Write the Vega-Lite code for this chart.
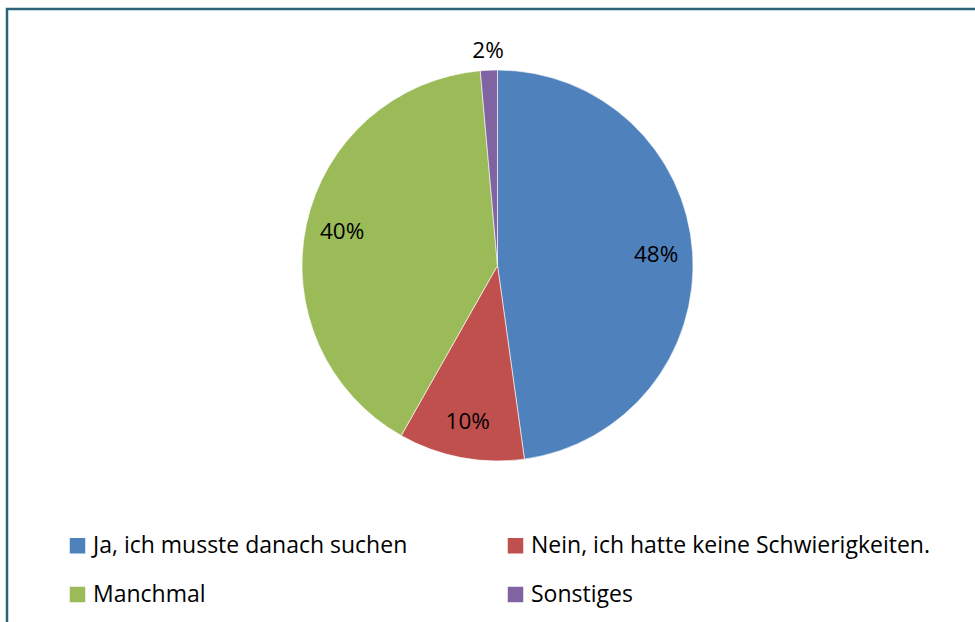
{
  "$schema": "https://vega.github.io/schema/vega-lite/v6.json",
  "autosize": {"type": "none"},
  "padding": {"left": 7, "top": 9, "right": -6, "bottom": -6},
  "width": 974,
  "height": 619,
  "background": "white",
  "view": {"stroke": "#2b6476", "strokeWidth": 2.5, "fill": "white"},
  "config": {
    "view": {"stroke": "#2b6476", "strokeWidth": 2.5},
    "font": "Open Sans",
    "legend": {
      "orient": "none",
      "legendX": 59,
      "legendY": 525,
      "columns": 2,
      "symbolType": "square",
      "symbolSize": 240,
      "symbolStrokeWidth": 0,
      "symbolOpacity": 1,
      "labelFont": "Open Sans",
      "labelFontSize": 23,
      "labelColor": "#000000",
      "labelOffset": 4,
      "labelLimit": 0,
      "rowPadding": 25,
      "columnPadding": 96,
      "title": null
    }
  },
  "data": {
    "values": [
      {"category": "Ja, ich musste danach suchen", "answer_no": 1, "value": 47.8, "label": "48%"},
      {"category": "Nein, ich hatte keine Schwierigkeiten.", "answer_no": 2, "value": 10.4, "label": "10%"},
      {"category": "Manchmal", "answer_no": 3, "value": 40.4, "label": "40%"},
      {"category": "Sonstiges", "answer_no": 4, "value": 1.4, "label": "2%"}
    ]
  },
  "encoding": {
    "theta": {"field": "value", "type": "quantitative", "stack": true},
    "order": {"field": "answer_no", "type": "quantitative", "sort": "ascending"},
    "color": {
      "field": "category",
      "type": "nominal",
      "scale": {
        "domain": ["Ja, ich musste danach suchen", "Manchmal", "Nein, ich hatte keine Schwierigkeiten.", "Sonstiges"],
        "range": ["#4f81bd", "#9bbb59", "#c0504d", "#8064a2"]
      },
      "legend": {"title": null}
    }
  },
  "layer": [
    {
      "mark": {"type": "arc", "radius": 195.5, "x": {"expr": "width/2 + 3.5"}, "y": {"expr": "height/2 - 53"}, "stroke": "white", "strokeWidth": 0.6}
    },
    {
      "mark": {"type": "text", "radius": 159, "x": {"expr": "width/2 + 3.5"}, "y": {"expr": "height/2 - 53"}, "fontSize": 22.5, "font": "Open Sans", "fill": "#000000"},
      "encoding": {
        "text": {"condition": {"test": "datum.category === 'Sonstiges'", "value": ""}, "field": "label"},
        "color": {"value": "#000000"}
      }
    },
    {
      "mark": {"type": "text", "radius": 215, "x": {"expr": "width/2 + 3.5"}, "y": {"expr": "height/2 - 53"}, "fontSize": 22.5, "font": "Open Sans", "fill": "#000000"},
      "encoding": {
        "text": {"condition": {"test": "datum.category !== 'Sonstiges'", "value": ""}, "field": "label"},
        "color": {"value": "#000000"}
      }
    }
  ]
}
